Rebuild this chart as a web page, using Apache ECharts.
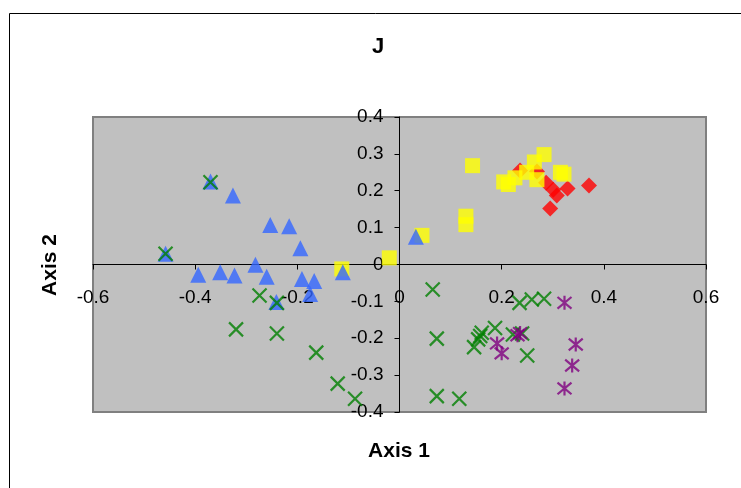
<!DOCTYPE html>
<html>
<head>
<meta charset="utf-8">
<script src="https://cdn.jsdelivr.net/npm/echarts@6/dist/echarts.min.js"></script>
<style>
  html, body { margin: 0; padding: 0; background: #ffffff; }
  #chart { width: 741px; height: 488px; }
</style>
</head>
<body>
<div id="chart"></div>
<script>
// Axis ticks
const xTicks = [-0.6, -0.4, -0.2, 0, 0.2, 0.4, 0.6];
const yTicks = [-0.4, -0.3, -0.2, -0.1, 0, 0.1, 0.2, 0.3, 0.4];

// Group scores [Axis 1, Axis 2]
const redDiamonds = [[0.236,0.255],[0.269,0.252],[0.287,0.222],[0.301,0.203],[0.308,0.187],[0.329,0.206],[0.371,0.214],[0.295,0.152]];
const yellowSquares = [[0.143,0.268],[0.130,0.131],[0.130,0.108],[0.044,0.079],[0.283,0.298],[0.264,0.278],[0.249,0.250],[0.226,0.235],[0.204,0.224],[0.213,0.217],[0.269,0.230],[0.315,0.250],[0.322,0.245],[-0.020,0.018],[-0.113,-0.012]];
const blueTriangles = [[-0.370,0.225],[-0.326,0.187],[-0.253,0.107],[-0.216,0.104],[-0.194,0.044],[-0.458,0.029],[-0.394,-0.028],[-0.351,-0.021],[-0.323,-0.030],[-0.282,-0.001],[-0.260,-0.033],[-0.191,-0.039],[-0.167,-0.045],[-0.111,-0.021],[-0.241,-0.102],[-0.175,-0.080],[0.032,0.075]];
const greenCrosses = [[-0.370,0.223],[-0.458,0.029],[-0.274,-0.084],[-0.240,-0.104],[-0.320,-0.176],[-0.240,-0.187],[-0.163,-0.239],[-0.121,-0.323],[-0.087,-0.364],[0.065,-0.068],[0.073,-0.201],[0.073,-0.357],[0.117,-0.364],[0.146,-0.224],[0.154,-0.203],[0.158,-0.194],[0.161,-0.185],[0.187,-0.172],[0.235,-0.104],[0.259,-0.095],[0.283,-0.093],[0.222,-0.190],[0.240,-0.187],[0.250,-0.247]];
const purpleStars = [[0.323,-0.104],[0.345,-0.217],[0.338,-0.274],[0.323,-0.336],[0.191,-0.214],[0.200,-0.241],[0.231,-0.192],[0.236,-0.186]];

const FONT = '"Liberation Sans", Arial, sans-serif';
const crossPath = 'path://M0,0L10,10M10,0L0,10';
const starPath = 'path://M0,0L10,10M10,0L0,10M5,-1L5,11';

// Plot box geometry; axes are shifted so they cross at the origin
const GRID = { left: 93, right: 35, top: 117, bottom: 76 };
const plotW = 741 - GRID.left - GRID.right;
const plotH = 488 - GRID.top - GRID.bottom;
const xZeroOffset = -(plotH / 2);   // from the bottom edge up to y = 0
const yZeroOffset = -(plotW / 2);   // from the left edge right to x = 0

function fmt(v) {
  const r = Math.round(v * 10) / 10;
  return r === 0 ? '0' : String(r);
}

const chart = echarts.init(document.getElementById('chart'), null, { renderer: 'canvas' });
chart.setOption({
  animation: false,
  backgroundColor: '#ffffff',
  grid: Object.assign({
    show: true,
    backgroundColor: '#C0C0C0',
    borderColor: '#808080',
    borderWidth: 2
  }, GRID),
  graphic: [
    { type: 'rect', left: 7, top: 11, shape: { width: 800, height: 600 },
      style: { fill: 'none', stroke: '#000000', lineWidth: 1 }, silent: true, z: -10 },
    { type: 'text', x: 378, y: 47, style: { text: 'J', font: 'bold 22px ' + FONT, fill: '#000',
      textAlign: 'center', textVerticalAlign: 'middle' } },
    { type: 'text', x: 399, y: 451, style: { text: 'Axis 1', font: 'bold 21px ' + FONT, fill: '#000',
      textAlign: 'center', textVerticalAlign: 'middle' } },
    { type: 'text', x: 50, y: 265, rotation: Math.PI / 2, style: { text: 'Axis 2', font: 'bold 21px ' + FONT, fill: '#000',
      textAlign: 'center', textVerticalAlign: 'middle' } }
  ],
  xAxis: {
    type: 'value',
    position: 'bottom',
    offset: xZeroOffset,
    min: xTicks[0], max: xTicks[xTicks.length - 1], interval: 0.2,
    axisLine: { onZero: false, lineStyle: { color: '#000', width: 1 } },
    axisTick: { show: true, length: 5, lineStyle: { color: '#000' } },
    splitLine: { show: false },
    axisLabel: { show: true, margin: 24, color: '#000', fontSize: 19, fontFamily: FONT,
      showMinLabel: true, showMaxLabel: true, formatter: fmt }
  },
  yAxis: {
    type: 'value',
    position: 'left',
    offset: yZeroOffset,
    min: yTicks[0], max: yTicks[yTicks.length - 1], interval: 0.1,
    axisLine: { onZero: false, lineStyle: { color: '#000', width: 1 } },
    axisTick: { show: true, length: 5, lineStyle: { color: '#000' } },
    splitLine: { show: false },
    axisLabel: { show: true, margin: 16, color: '#000', fontSize: 19, fontFamily: FONT,
      showMinLabel: true, showMaxLabel: true, formatter: fmt }
  },
  series: [
    { name: 'red', type: 'scatter', data: redDiamonds, symbol: 'diamond', symbolSize: 16,
      itemStyle: { color: '#FF0000' } },
    { name: 'yellow', type: 'scatter', data: yellowSquares, symbol: 'rect', symbolSize: 15,
      itemStyle: { color: '#FFFF00' } },
    { name: 'blue', type: 'scatter', data: blueTriangles, symbol: 'triangle', symbolSize: 16,
      itemStyle: { color: '#3366FF' } },
    { name: 'green', type: 'scatter', data: greenCrosses, symbol: crossPath, symbolSize: 14,
      itemStyle: { color: '#008000', borderColor: '#008000', borderWidth: 2.2 } },
    { name: 'purple', type: 'scatter', data: purpleStars, symbol: starPath, symbolSize: 14,
      itemStyle: { color: '#800080', borderColor: '#800080', borderWidth: 2.2 } }
  ]
});
</script>
</body>
</html>
